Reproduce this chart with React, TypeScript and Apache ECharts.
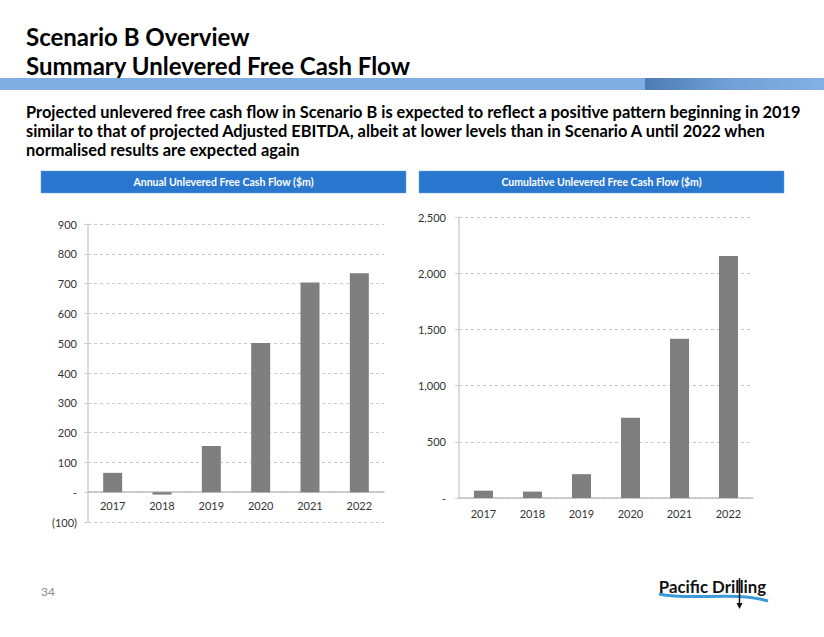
import React, { useEffect, useRef } from "react";
import * as echarts from "echarts";

const years = ["2017", "2018", "2019", "2020", "2021", "2022"];
const annualFcf = [65, -8, 155, 501, 704, 735];
const cumulativeFcf = [65, 57, 212, 713, 1417, 2152];

const titleLine1 = "Scenario B Overview";
const titleLine2 = "Summary Unlevered Free Cash Flow";
const subtitleLines = [
  "Projected unlevered free cash flow in Scenario B is expected to reflect a positive pattern beginning in 2019",
  "similar to that of projected Adjusted EBITDA, albeit at lower levels than in Scenario A until 2022 when",
  "normalised results are expected again",
];
const leftHeader = "Annual Unlevered Free Cash Flow ($m)";
const rightHeader = "Cumulative Unlevered Free Cash Flow ($m)";
const pageNumber = "34";
const logoText = "Pacific Drilling";

const FONT = "Lato, 'Open Sans', sans-serif";

const fmt = (v: number) => {
  if (v === 0) return "-";
  if (v < 0) return "(" + Math.abs(v).toLocaleString("en-US") + ")";
  return v.toLocaleString("en-US");
};

function txt(x: number, y: number, text: string, opts: any = {}) {
  return {
    type: "text",
    x,
    y,
    silent: true,
    style: {
      text,
      fill: opts.fill || "#000",
      fontSize: opts.fontSize || 12,
      fontWeight: opts.fontWeight || "normal",
      fontFamily: FONT,
      align: opts.align || "left",
      textAlign: opts.align || "left",
      verticalAlign: "middle",
      textVerticalAlign: "middle",
    },
  };
}

export default function App() {
  const ref = useRef<HTMLDivElement>(null);
  useEffect(() => {
    if (!ref.current) return;
    const chart = echarts.init(ref.current, undefined, { renderer: "svg" });

    const xCommon = (gridIndex: number, offset: number, margin: number) => ({
      type: "category" as const,
      gridIndex,
      data: years,
      position: "bottom" as const,
      offset,
      axisLine: { onZero: false, lineStyle: { color: "#bfbfbf", width: 1.5 } },
      axisTick: { show: false },
      axisLabel: { fontSize: 11, color: "#333", margin, fontFamily: FONT },
    });
    const yCommon = (gridIndex: number, min: number, max: number, interval: number, margin: number) => ({
      type: "value" as const,
      gridIndex,
      min,
      max,
      interval,
      axisLine: { show: true, lineStyle: { color: "#d0d0d0", width: 1.5 } },
      axisTick: { show: true, length: 4, lineStyle: { color: "#d0d0d0" } },
      splitLine: { show: true, lineStyle: { color: "#c8c8c8", type: [3, 3] as any, width: 1 } },
      axisLabel: { fontSize: 11, color: "#333", margin, fontFamily: FONT, formatter: fmt },
    });

    const graphic: any[] = [
      txt(26, 36, titleLine1, { fontSize: 24, fontWeight: "bold" }),
      txt(26, 65, titleLine2, { fontSize: 24, fontWeight: "bold" }),
      {
        type: "rect",
        silent: true,
        shape: { x: 0, y: 78, width: 824, height: 12 },
        style: { fill: "#7eaee2" },
      },
      {
        type: "rect",
        silent: true,
        shape: { x: 645, y: 78, width: 179, height: 12 },
        style: {
          fill: new echarts.graphic.LinearGradient(0, 0, 1, 0, [
            { offset: 0, color: "#4d7bb3" },
            { offset: 0.45, color: "#6f9fd4" },
            { offset: 1, color: "#82b2e4" },
          ]),
        },
      },
      ...subtitleLines.map((l, i) => txt(26, 111 + i * 19, l, { fontSize: 16.4, fontWeight: "bold" })),
      {
        type: "rect",
        silent: true,
        shape: { x: 41, y: 171, width: 365, height: 22 },
        style: { fill: "#2a77cf", stroke: "#6aa0e0", lineWidth: 0.5 },
      },
      txt(223.5, 182, leftHeader, { fontSize: 10.5, fontWeight: "bold", fill: "#fff", align: "center" }),
      {
        type: "rect",
        silent: true,
        shape: { x: 419, y: 171, width: 365, height: 22 },
        style: { fill: "#2a77cf", stroke: "#6aa0e0", lineWidth: 0.5 },
      },
      txt(601.5, 182, rightHeader, { fontSize: 10.5, fontWeight: "bold", fill: "#fff", align: "center" }),
      txt(41, 591, pageNumber, { fontSize: 12, fill: "#8c8c8c" }),
      {
        type: "bezierCurve",
        silent: true,
        shape: { x1: 659, y1: 594, cpx1: 690, cpy1: 601, cpx2: 735, cpy2: 591, x2: 768, y2: 601 },
        style: { stroke: "#3a9ad9", lineWidth: 3, fill: "none" },
      },
      txt(712.5, 586, logoText, { fontSize: 16.8, fontWeight: "bold", fill: "#111", align: "center" }),
      {
        type: "line",
        silent: true,
        shape: { x1: 739.5, y1: 578, x2: 739.5, y2: 604 },
        style: { stroke: "#111", lineWidth: 1.5 },
      },
      {
        type: "polygon",
        silent: true,
        shape: { points: [[736.5, 603], [742.5, 603], [739.5, 609]] },
        style: { fill: "#111" },
      },
    ];

    chart.setOption({
      animation: false,
      backgroundColor: "#fff",
      textStyle: { fontFamily: FONT },
      grid: [
        { left: 88, top: 224, width: 296, height: 298 },
        { left: 459, top: 217, width: 294, height: 281 },
      ],
      xAxis: [xCommon(0, -29.8, 8), xCommon(1, 0, 10)],
      yAxis: [yCommon(0, -100, 900, 100, 11), yCommon(1, 0, 2500, 500, 13)],
      series: [
        {
          type: "bar",
          xAxisIndex: 0,
          yAxisIndex: 0,
          data: annualFcf,
          barWidth: 19,
          itemStyle: { color: "#7f7f7f" },
        },
        {
          type: "bar",
          xAxisIndex: 1,
          yAxisIndex: 1,
          data: cumulativeFcf,
          barWidth: 19,
          itemStyle: { color: "#7f7f7f" },
        },
      ],
      graphic,
    });
    return () => chart.dispose();
  }, []);
  return (
    <div
      ref={ref}
      style={{ position: "absolute", left: 0, top: 0, width: 824, height: 637 }}
    />
  );
}
